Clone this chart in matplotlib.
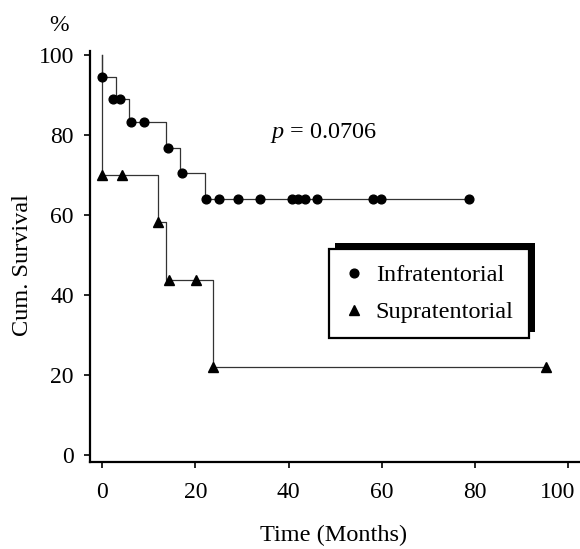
import matplotlib
matplotlib.use("Agg")
import matplotlib.pyplot as plt
from matplotlib.patches import Rectangle
from matplotlib.transforms import IdentityTransform, ScaledTranslation

plt.rcParams['font.family'] = ['Liberation Serif', 'DejaVu Serif']
plt.rcParams['mathtext.fontset'] = 'custom'
plt.rcParams['mathtext.it'] = 'Liberation Serif:italic'
plt.rcParams['mathtext.rm'] = 'Liberation Serif'

# Infratentorial: survival steps (time, level after drop), end of follow-up, markers
infra_step_t = [0, 0, 2.9, 5.8, 13.7, 16.8, 22.0, 78.7]
infra_step_s = [100, 94.4, 88.9, 83.3, 76.7, 70.4, 63.9, 63.9]
infra_mark_t = [0, 2.4, 3.9, 6.2, 9.1, 14.2, 17.1, 22.2, 25.1, 29.1, 33.9,
                40.7, 42.1, 43.6, 46.1, 58.2, 59.9, 78.7]
infra_mark_s = [94.4, 88.9, 88.9, 83.3, 83.3, 76.7, 70.4, 63.9, 63.9, 63.9, 63.9,
                63.9, 63.9, 63.9, 63.9, 63.9, 63.9, 63.9]

# Supratentorial
supra_step_t = [0, 0, 12.0, 13.7, 23.8, 95.2]
supra_step_s = [100, 70.0, 58.3, 43.75, 21.9, 21.9]
supra_mark_t = [0, 4.2, 12.0, 14.4, 20.1, 23.8, 95.2]
supra_mark_s = [70.0, 70.0, 58.3, 43.75, 43.75, 21.9, 21.9]

xticks = [0, 20, 40, 60, 80, 100]
yticks = [0, 20, 40, 60, 80, 100]
p_text = r"$\mathit{p}$ = 0.0706"

fig = plt.figure(figsize=(5.8, 5.49), dpi=100)
ax = fig.add_axes([0.155, 0.1585, 0.845, 0.7485])

line_col = '#333333'
ax.step(infra_step_t, infra_step_s, where='post', color=line_col, lw=0.9)
ax.step(supra_step_t, supra_step_s, where='post', color=line_col, lw=0.9)
ax.plot(infra_mark_t, infra_mark_s, 'o', color='black', ms=6.3, ls='none',
        label='Infratentorial', zorder=3)
ax.plot(supra_mark_t, supra_mark_s, '^', color='black', ms=6.8, ls='none',
        label='Supratentorial', zorder=3)

ax.set_xlim(-2.6, 102.5)
ax.set_ylim(-1.8, 101.0)
ax.set_xticks(xticks)
ax.set_yticks(yticks)

for s in ['top', 'right']:
    ax.spines[s].set_visible(False)
for s in ['left', 'bottom']:
    ax.spines[s].set_linewidth(1.6)
ax.tick_params(axis='both', direction='out', length=4.5, width=1.2, labelsize=17)
ax.tick_params(axis='x', pad=10)
ax.tick_params(axis='y', pad=7)

# the last x label sits a little left of its tick, as in the original
last = ax.get_xticklabels()[-1]
last.set_transform(last.get_transform() + ScaledTranslation(-8 / 72, 0, fig.dpi_scale_trans))

ax.set_xlabel('Time (Months)', fontsize=17.5)
ax.xaxis.label.set_va('center')
ax.xaxis.set_label_coords(0.498, -0.178)
ax.set_ylabel('Cum. Survival', fontsize=17.5)
ax.yaxis.label.set_va('center')
ax.yaxis.set_label_coords(-0.137, 0.48)

ax.text(-0.0635, 1.063, '%', transform=ax.transAxes, fontsize=17,
        ha='center', va='center')
ax.text(36.0, 80.6, p_text, fontsize=17.5, ha='left', va='center')

leg = ax.legend(loc='upper left', bbox_to_anchor=(0.488, 0.518), borderaxespad=0,
                fontsize=17.5, frameon=True, fancybox=False, edgecolor='black',
                framealpha=1, handlelength=0.8, handletextpad=0.5,
                borderpad=0.62, labelspacing=0.62, numpoints=1)
leg.get_frame().set_linewidth(1.6)
leg.set_zorder(6)

# offset black shadow behind the legend box (up and to the right)
fig.canvas.draw()
bb = leg.get_frame().get_window_extent()
shadow = Rectangle((bb.x0 + 6, bb.y0 + 6), bb.width, bb.height,
                   transform=IdentityTransform(), facecolor='black',
                   edgecolor='none', zorder=5, clip_on=False)
ax.add_artist(shadow)

fig.savefig('out.png', dpi=100)
